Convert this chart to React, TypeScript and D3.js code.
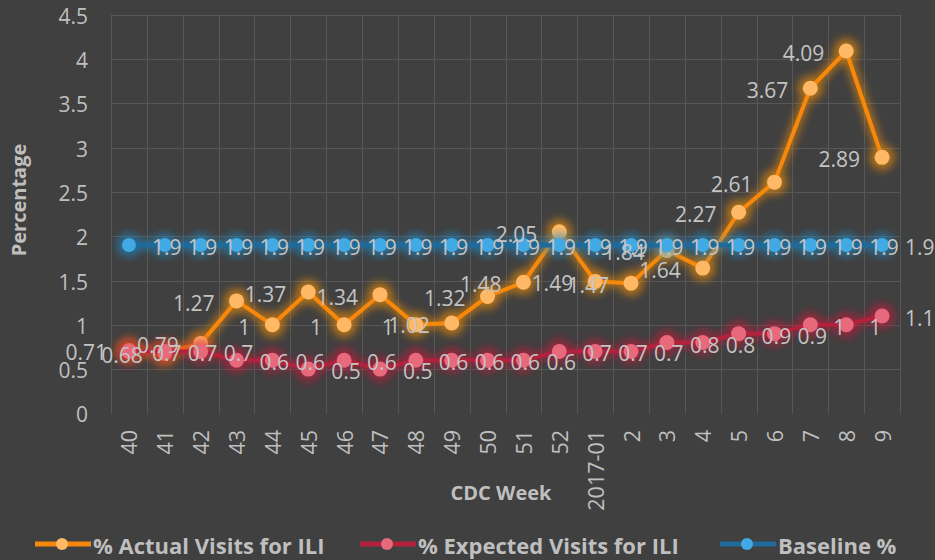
import React, { useRef, useEffect } from 'react';
import * as d3 from 'd3';

const weeks = ['40', '41', '42', '43', '44', '45', '46', '47', '48', '49', '50', '51', '52',
  '2017-01', '2', '3', '4', '5', '6', '7', '8', '9'];
const actualVisits = [0.71, 0.68, 0.79, 1.27, 1, 1.37, 1, 1.34, 1, 1.02, 1.32, 1.48, 2.05,
  1.49, 1.47, 1.84, 1.64, 2.27, 2.61, 3.67, 4.09, 2.89];
const expectedVisits = [0.7, 0.7, 0.7, 0.6, 0.6, 0.5, 0.6, 0.5, 0.6, 0.6, 0.6, 0.6, 0.7,
  0.7, 0.7, 0.8, 0.8, 0.9, 0.9, 1, 1, 1.1];
const baselinePct = [1.9, 1.9, 1.9, 1.9, 1.9, 1.9, 1.9, 1.9, 1.9, 1.9, 1.9, 1.9, 1.9,
  1.9, 1.9, 1.9, 1.9, 1.9, 1.9, 1.9, 1.9, 1.9];
const yTicks = [0, 0.5, 1, 1.5, 2, 2.5, 3, 3.5, 4, 4.5];
const seriesNames = ['% Actual Visits for ILI', '% Expected Visits for ILI', 'Baseline %'];

const W = 935;
const H = 560;
const FONT = '"Open Sans", "DejaVu Sans", sans-serif';
const TEXT = '#bfbfbf';

const App = () => {
  const ref = useRef<SVGSVGElement>(null);

  useEffect(() => {
    const svg = d3.select(ref.current);
    svg.selectAll('*').remove();

    svg.append('rect').attr('width', W).attr('height', H).attr('fill', '#404040');

    const defs = svg.append('defs');
    defs.append('filter')
      .attr('id', 'glow')
      .attr('x', '-20%').attr('y', '-20%').attr('width', '140%').attr('height', '140%')
      .append('feGaussianBlur')
      .attr('stdDeviation', 4);

    const x = d3.scaleBand().domain(weeks).range([111, 900]);
    const y = d3.scaleLinear().domain([0, 4.5]).range([413.4, 14.7]);
    const cx = (w: string) => (x(w) as number) + x.bandwidth() / 2;

    // gridlines
    const grid = svg.append('g').attr('stroke', '#575757').attr('stroke-width', 1);
    grid.selectAll('line.h')
      .data(yTicks.filter(t => t > 0))
      .enter()
      .append('line')
      .attr('x1', 111).attr('x2', 900)
      .attr('y1', d => Math.round(y(d)) + 0.5)
      .attr('y2', d => Math.round(y(d)) + 0.5);
    grid.selectAll('line.v')
      .data([...weeks.map(w => x(w) as number), 900])
      .enter()
      .append('line')
      .attr('x1', d => Math.round(d) + 0.5).attr('x2', d => Math.round(d) + 0.5)
      .attr('y1', y(4.5)).attr('y2', y(0));

    // y tick labels
    svg.append('g')
      .selectAll('text')
      .data(yTicks)
      .enter()
      .append('text')
      .attr('x', 88)
      .attr('y', d => y(d) + 1)
      .attr('text-anchor', 'end')
      .attr('dominant-baseline', 'central')
      .attr('fill', TEXT)
      .style('font', `21px ${FONT}`)
      .text(d => d);

    // x tick labels
    svg.append('g')
      .selectAll('text')
      .data(weeks)
      .enter()
      .append('text')
      .attr('transform', d => `translate(${cx(d)},430) rotate(-90)`)
      .attr('text-anchor', 'end')
      .attr('dominant-baseline', 'central')
      .attr('fill', TEXT)
      .style('font', `21.5px ${FONT}`)
      .text(d => d);

    // axis titles
    svg.append('text')
      .attr('transform', 'translate(26,200) rotate(-90)')
      .attr('text-anchor', 'middle')
      .attr('fill', TEXT)
      .style('font', `bold 20px ${FONT}`)
      .text('Percentage');
    svg.append('text')
      .attr('x', 501).attr('y', 500)
      .attr('text-anchor', 'middle')
      .attr('fill', TEXT)
      .style('font', `bold 20px ${FONT}`)
      .text('CDC Week');

    const series = [
      { name: seriesNames[0], values: actualVisits, line: '#f7880c', fill: '#ffb866', glow: '#ff9400', r: 7.5, lw: 4, labelSide: 'left' },
      { name: seriesNames[1], values: expectedVisits, line: '#b3223c', fill: '#e8687c', glow: '#d0183a', r: 7.5, lw: 4, labelSide: 'right' },
      { name: seriesNames[2], values: baselinePct, line: '#1f6a98', fill: '#41a9e4', glow: '#1f8ed0', r: 7, lw: 5, labelSide: 'right' },
    ];

    const line = d3.line<number>()
      .x((d, i) => cx(weeks[i]))
      .y(d => y(d));

    series.forEach(s => {
      const g = svg.append('g');
      const glow = g.append('g').attr('filter', 'url(#glow)').attr('opacity', 0.6);
      glow.append('path')
        .attr('d', line(s.values))
        .attr('fill', 'none')
        .attr('stroke', s.glow)
        .attr('stroke-width', s.lw + 5);
      glow.selectAll('circle')
        .data(s.values)
        .enter()
        .append('circle')
        .attr('cx', (d, i) => cx(weeks[i]))
        .attr('cy', d => y(d))
        .attr('r', s.r + 5)
        .attr('fill', s.glow);

      g.append('path')
        .attr('d', line(s.values))
        .attr('fill', 'none')
        .attr('stroke', s.line)
        .attr('stroke-width', s.lw)
        .attr('stroke-linejoin', 'round');
      g.selectAll('circle.m')
        .data(s.values)
        .enter()
        .append('circle')
        .attr('cx', (d, i) => cx(weeks[i]))
        .attr('cy', d => y(d))
        .attr('r', s.r)
        .attr('fill', s.fill);
    });

    // data labels on top
    series.forEach(s => {
      svg.append('g')
        .selectAll('text')
        .data(s.values)
        .enter()
        .append('text')
        .attr('x', (d, i) => cx(weeks[i]) + (s.labelSide === 'left' ? -22 : 23))
        .attr('y', d => y(d) + 2)
        .attr('text-anchor', s.labelSide === 'left' ? 'end' : 'start')
        .attr('dominant-baseline', 'central')
        .attr('fill', '#c4c4c4')
        .style('font', `21px ${FONT}`)
        .text(d => d);
    });

    // legend
    const legendX = [35, 360, 720];
    const legend = svg.append('g')
      .selectAll('g')
      .data(series)
      .enter()
      .append('g')
      .attr('transform', (d, i) => `translate(${legendX[i]},544)`);
    legend.append('line')
      .attr('x1', 0).attr('x2', 56)
      .attr('stroke', d => d.line)
      .attr('stroke-width', 5);
    legend.append('circle')
      .attr('cx', 27)
      .attr('r', 6)
      .attr('fill', d => d.fill);
    legend.append('text')
      .attr('x', 58)
      .attr('y', 1)
      .attr('dominant-baseline', 'central')
      .attr('fill', TEXT)
      .style('font', `bold 22px ${FONT}`)
      .text(d => d.name);
  }, []);

  return (
    <svg
      ref={ref}
      width={W}
      height={H}
      style={{ position: 'absolute', left: 0, top: 0, display: 'block' }}
    />
  );
};

export default App;
